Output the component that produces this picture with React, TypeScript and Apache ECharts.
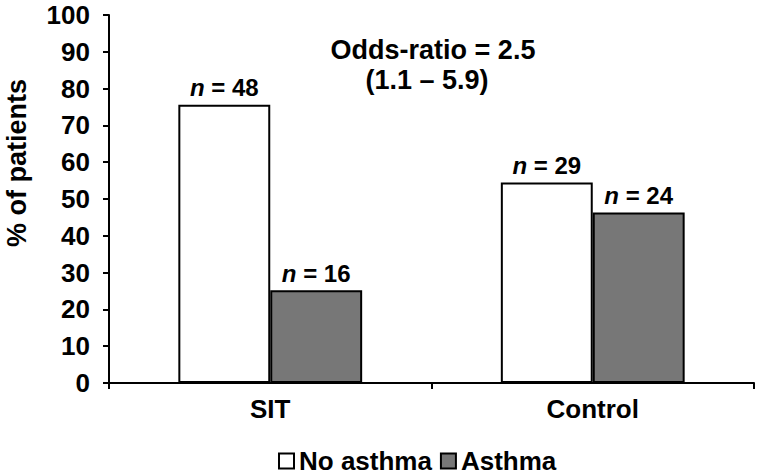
import React, { useEffect, useRef } from "react";
import * as echarts from "echarts";

const categories = ["SIT", "Control"];
const noAsthma = [75.6, 54.5];
const asthma = [25.2, 46.3];
const noAsthmaN = [48, 29];
const asthmaN = [16, 24];
const seriesNames = ["No asthma", "Asthma"];
const yTicks = { min: 0, max: 100, interval: 10 };

const FONT = "'Liberation Sans', Arial, Helvetica, sans-serif";

export default function App() {
  const ref = useRef<HTMLDivElement>(null);
  useEffect(() => {
    if (!ref.current) return;
    const chart = echarts.init(ref.current, null, { renderer: "svg" });
    const labelFor = (ns: number[]) => ({
      show: true,
      position: "top",
      distance: 5,
      formatter: (p: any) => `{i|n}{t| = ${ns[p.dataIndex]}}`,
      rich: {
        i: { fontFamily: FONT, fontStyle: "italic", fontWeight: "bold", fontSize: 24, color: "#000" },
        t: { fontFamily: FONT, fontWeight: "bold", fontSize: 24, color: "#000" },
      },
    });
    chart.setOption({
      animation: false,
      backgroundColor: "#fff",
      textStyle: { fontFamily: FONT },
      grid: { left: 109, right: 3, top: 15, bottom: 92, containLabel: false },
      legend: {
        top: 447,
        left: 278,
        padding: 0,
        itemWidth: 15,
        itemHeight: 15,
        itemGap: 8,
        icon: "rect",
        textStyle: { fontFamily: FONT, fontWeight: "bold", fontSize: 26, lineHeight: 28, color: "#000" },
        data: seriesNames,
      },
      xAxis: {
        type: "category",
        data: categories,
        axisLine: { lineStyle: { color: "#000", width: 2 } },
        axisTick: { show: true, length: 6, lineStyle: { color: "#000", width: 2 } },
        axisLabel: { fontFamily: FONT, fontWeight: "bold", fontSize: 26, color: "#000", margin: 13 },
      },
      yAxis: {
        type: "value",
        min: yTicks.min,
        max: yTicks.max,
        interval: yTicks.interval,
        splitLine: { show: false },
        axisLine: { show: true, lineStyle: { color: "#000", width: 2 } },
        axisTick: { show: true, length: 6, lineStyle: { color: "#000", width: 2 } },
        axisLabel: { fontFamily: FONT, fontWeight: "bold", fontSize: 26, color: "#000", margin: 19 },
      },
      series: [
        {
          name: seriesNames[0],
          type: "bar",
          data: noAsthma,
          barGap: "0%",
          barCategoryGap: "43%",
          itemStyle: { color: "#fff", borderColor: "#000", borderWidth: 2 },
          label: labelFor(noAsthmaN),
        },
        {
          name: seriesNames[1],
          type: "bar",
          data: asthma,
          itemStyle: { color: "#777777", borderColor: "#000", borderWidth: 2 },
          label: labelFor(asthmaN),
        },
      ],
      graphic: [
        {
          type: "text",
          x: 17,
          y: 163,
          rotation: Math.PI / 2,
          style: {
            text: "% of patients",
            fontFamily: FONT,
            fontWeight: "bold",
            fontSize: 27,
            fill: "#000",
            align: "center",
            verticalAlign: "middle",
          },
        },
        {
          type: "text",
          x: 433,
          y: 50,
          style: {
            text: "Odds-ratio = 2.5",
            fontFamily: FONT,
            fontWeight: "bold",
            fontSize: 27,
            fill: "#000",
            align: "center",
            verticalAlign: "middle",
          },
        },
        {
          type: "text",
          x: 427,
          y: 80,
          style: {
            text: "(1.1 \u2013 5.9)",
            fontFamily: FONT,
            fontWeight: "bold",
            fontSize: 27,
            fill: "#000",
            align: "center",
            verticalAlign: "middle",
          },
        },
      ],
    });
    return () => chart.dispose();
  }, []);
  return <div ref={ref} style={{ width: 757, height: 475, position: "absolute", left: 0, top: 0 }} />;
}
